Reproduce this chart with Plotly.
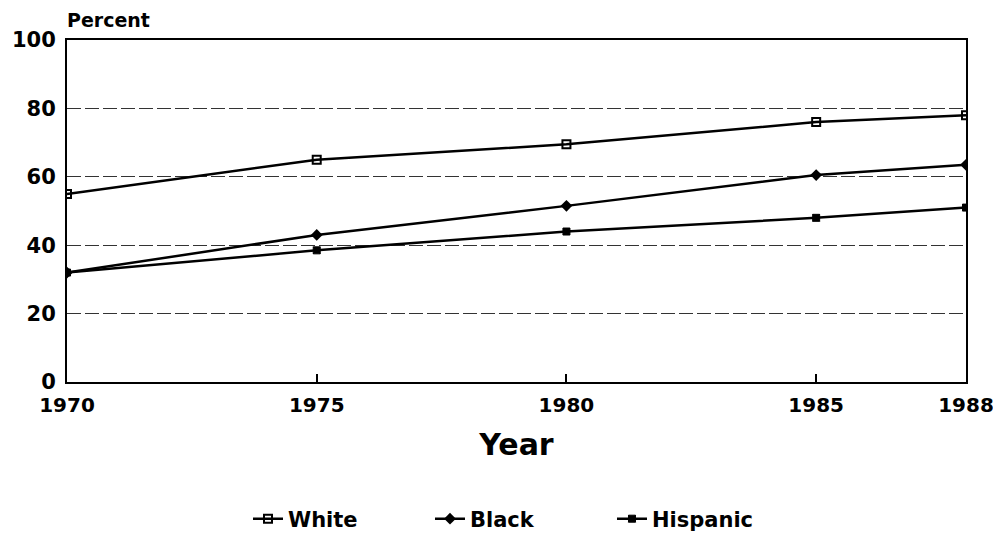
import plotly.graph_objects as go

years = [1970, 1975, 1980, 1985, 1988]
white = [55, 65, 69.5, 76, 78]
black = [32, 43, 51.5, 60.5, 63.5]
hispanic = [32, 38.5, 44, 48, 51]
y_ticks = [0, 20, 40, 60, 80, 100]
x_ticks = [1970, 1975, 1980, 1985, 1988]

FONT = "DejaVu Sans"

fig = go.Figure()
fig.add_trace(go.Scatter(x=years, y=white, name="White", mode="lines+markers",
                         line=dict(color="black", width=2.5),
                         marker=dict(symbol="square-open", size=8, color="black", line=dict(width=2))))
fig.add_trace(go.Scatter(x=years, y=black, name="Black", mode="lines+markers",
                         line=dict(color="black", width=2.5),
                         marker=dict(symbol="diamond", size=9, color="black")))
fig.add_trace(go.Scatter(x=years, y=hispanic, name="Hispanic", mode="lines+markers",
                         line=dict(color="black", width=2.5),
                         marker=dict(symbol="square-x", size=7, color="black", line=dict(width=1, color="black"))))

fig.update_layout(
    width=1001, height=534,
    paper_bgcolor="white", plot_bgcolor="white",
    margin=dict(l=59, r=43, t=32, b=160),
    font=dict(family=FONT, color="black"),
    showlegend=True,
    legend=dict(orientation="h", x=0.505, xanchor="center",
                yref="container", y=0.043, yanchor="middle",
                font=dict(size=21, family=FONT, weight="bold"),
                entrywidth=137, entrywidthmode="pixels", tracegroupgap=0),
    annotations=[dict(text="Percent", xref="paper", yref="paper", x=0, y=1.0,
                      xanchor="left", yanchor="middle", xshift=-2, yshift=20, showarrow=False,
                      font=dict(size=19, family=FONT, weight="bold"))],
)
fig.update_xaxes(range=[1970, 1988], tickvals=x_ticks, ticktext=[str(v) for v in x_ticks],
                 automargin=False,
                 showline=True, linecolor="black", linewidth=2, mirror=True,
                 ticks="inside", ticklen=8, tickcolor="black", tickwidth=2,
                 showgrid=False, zeroline=False, ticklabelstandoff=4,
                 tickfont=dict(size=20, family=FONT, weight="bold"),
                 title=dict(text="Year", font=dict(size=30, family=FONT, weight="bold"), standoff=18))
fig.update_yaxes(range=[0, 100], tickvals=y_ticks, automargin=False,
                 showline=True, linecolor="black", linewidth=2, mirror=True,
                 ticks="", showgrid=True, gridcolor="#333333", gridwidth=1, griddash="14px,4px",
                 zeroline=False, ticklabelstandoff=5,
                 tickfont=dict(size=21, family=FONT, weight="bold"))

fig.write_html("out.html")
